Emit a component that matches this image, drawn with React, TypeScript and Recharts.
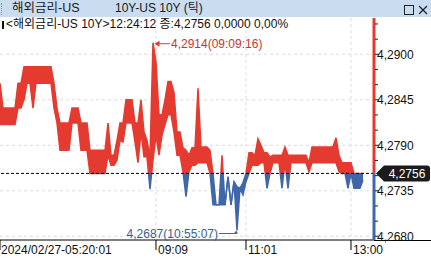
import React from 'react';
import { ComposedChart, Area, XAxis, YAxis, CartesianGrid, ReferenceLine, ReferenceDot } from 'recharts';

// ---- data (one sample per tick-slot, each a [low, high] range of the ticks inside it) ----
const highValues = [
  4.2865, 4.2835, 4.2835, 4.2835, 4.2835, 4.2835, 4.2865, 4.2865, 4.2885, 4.2885,
  4.2885, 4.2885, 4.2885, 4.2885, 4.2885, 4.2885, 4.2885, 4.2885, 4.2865, 4.2835,
  4.2817, 4.2817, 4.2817, 4.2817, 4.2835, 4.2835, 4.2835, 4.2817, 4.2817, 4.2817,
  4.2784, 4.2784, 4.2784, 4.2784, 4.2784, 4.2784, 4.2817, 4.2778, 4.2778, 4.2796,
  4.2817, 4.2817, 4.2845, 4.2845, 4.2845, 4.2817, 4.2817, 4.2845, 4.2806, 4.2796,
  4.2776, 4.2914, 4.2891, 4.2827, 4.2827, 4.2845, 4.2867, 4.2867, 4.2854, 4.2806,
  4.2806, 4.2787, 4.2784, 4.2778, 4.2787, 4.2787, 4.2859, 4.2788, 4.2788, 4.2788,
  4.2784, 4.2756, 4.2718, 4.2718, 4.2778, 4.2718, 4.2752, 4.2718, 4.2746, 4.2740,
  4.2738, 4.2745, 4.2756, 4.2781, 4.2781, 4.2778, 4.2798, 4.2790, 4.2781, 4.2781,
  4.2776, 4.2778, 4.2778, 4.2778, 4.2778, 4.2788, 4.2778, 4.2778, 4.2778, 4.2778,
  4.2778, 4.2778, 4.2778, 4.2769, 4.2788, 4.2788, 4.2788, 4.2788, 4.2788, 4.2788,
  4.2788, 4.2788, 4.2799, 4.2778, 4.2769, 4.2769, 4.2769, 4.2769, 4.2756, 4.2756,
  4.2756, 4.2756,
];
const lowValues = [
  4.2815, 4.2815, 4.2815, 4.2815, 4.2815, 4.2815, 4.2835, 4.2835, 4.2845, 4.2865,
  4.2865, 4.2835, 4.2865, 4.2865, 4.2865, 4.2865, 4.2865, 4.2865, 4.2835, 4.2817,
  4.2784, 4.2784, 4.2784, 4.2784, 4.2817, 4.2817, 4.2817, 4.2784, 4.2784, 4.2784,
  4.2756, 4.2756, 4.2756, 4.2756, 4.2756, 4.2756, 4.2778, 4.2766, 4.2766, 4.2772,
  4.2796, 4.2794, 4.2817, 4.2817, 4.2817, 4.2794, 4.2769, 4.2806, 4.2776, 4.2776,
  4.2737, 4.2772, 4.2802, 4.2778, 4.2802, 4.2815, 4.2827, 4.2827, 4.2806, 4.2778,
  4.2778, 4.2758, 4.2728, 4.2758, 4.2766, 4.2766, 4.2769, 4.2769, 4.2769, 4.2769,
  4.2756, 4.2718, 4.2718, 4.2718, 4.2718, 4.2718, 4.2752, 4.2718, 4.2746, 4.2687,
  4.2738, 4.2730, 4.2746, 4.2756, 4.2766, 4.2766, 4.2766, 4.2769, 4.2769, 4.2738,
  4.2756, 4.2769, 4.2769, 4.2769, 4.2738, 4.2769, 4.2738, 4.2769, 4.2769, 4.2769,
  4.2769, 4.2769, 4.2769, 4.2758, 4.2769, 4.2769, 4.2769, 4.2769, 4.2769, 4.2769,
  4.2769, 4.2769, 4.2769, 4.2758, 4.2756, 4.2756, 4.2738, 4.2756, 4.2738, 4.2738,
  4.2738, 4.2748,
];
const slotCount = 124.67;
const xTickSlots = [0, 52, 82, 117];
const xTickLabels = ['2024/02/27-05:20:01', '09:09', '11:01', '13:00'];
const yMajorTicks = [4.268, 4.2735, 4.279, 4.2845, 4.29];
const yMinorTicks = [4.26983, 4.27167, 4.27533, 4.27717, 4.28083, 4.28267, 4.28633, 4.28817, 4.29183, 4.29367];
const yDomain: [number, number] = [4.26755, 4.29439];
const closeValue = 4.2756;
const maxPoint = { slot: 51, value: 4.2914, label: '4,2914(09:09:16)' };
const minPoint = { slot: 79, value: 4.2687, label: '4,2687(10:55:07)' };
const windowTitle = '해외금리-US';
const windowSubtitle = '10Y-US 10Y (틱)';
const infoLine = '<해외금리-US 10Y>12:24:12 종:4,2756 0,0000 0,00%';

const rows = highValues.map((h, i) => ({ slot: i, range: [lowValues[i], h] }));

// ---- layout / style ----
const W = 431;
const H = 260;
const TOP = 18;
const AXIS_W = 57;
const XAXIS_H = 20;
const PLOT_BOTTOM = H - XAXIS_H;
const RED = '#e53a2f';
const BLUE = '#3f66a9';
const FONT = '"Liberation Sans", "Noto Sans CJK KR", sans-serif';
const splitOffset = (yDomain[1] - closeValue) / (yDomain[1] - yDomain[0]);

const fmt = (v: number) => v.toFixed(4).replace('.', ',');

const YTick = (props: any) => {
  const { x, y, payload } = props;
  const major = yMajorTicks.some((t) => Math.abs(t - payload.value) < 1e-6);
  return (
    <g>
      <line x1={x + 1} x2={x + (major ? 5 : 4)} y1={y} y2={y} stroke="#222" />
      {major && (
        <text x={x + 3} y={y} dy={4.5} fontSize={12} fontFamily={FONT} fill="#111">
          {fmt(payload.value)}
        </text>
      )}
    </g>
  );
};

const XTick = (props: any) => {
  const { x, y, payload, index } = props;
  const label = xTickLabels[xTickSlots.indexOf(payload.value)] ?? '';
  return (
    <text x={x + (index === 0 ? 1 : 2)} y={y + 3.5} fontSize={12} fontFamily={FONT} fill="#111">
      {label}
    </text>
  );
};

const CloseTag = (props: any) => {
  const { viewBox } = props;
  const left = viewBox.x + viewBox.width + 2;
  const cy = viewBox.y;
  const right = W - 1;
  return (
    <g>
      <path
        d={`M${left} ${cy} L${left + 8} ${cy - 8} L${right - 3} ${cy - 8} Q${right} ${cy - 8} ${right} ${cy - 5} L${right} ${cy + 5} Q${right} ${cy + 8} ${right - 3} ${cy + 8} L${left + 8} ${cy + 8} Z`}
        fill="#1b1b1b"
      />
      <text x={left + 31} y={cy + 4.5} textAnchor="middle" fontSize={12} fontFamily={FONT} fill="#fff">
        {fmt(closeValue)}
      </text>
    </g>
  );
};

const MaxMark = (props: any) => {
  const { cx, cy } = props;
  const yy = cy + 1;
  return (
    <g>
      <line x1={cx + 3} x2={cx + 17} y1={yy} y2={yy} stroke={RED} />
      <path d={`M${cx + 1.5} ${yy} l5 -3 v6 z`} fill={RED} />
      <text x={cx + 18} y={yy + 4.5} fontSize={12} fontFamily={FONT} fill="#c8362c">
        {maxPoint.label}
      </text>
    </g>
  );
};

const MinMark = (props: any) => {
  const { cx, cy } = props;
  const yy = cy + 3;
  return (
    <g>
      <line x1={cx - 18} x2={cx} y1={yy} y2={yy} stroke={BLUE} />
      <path d={`M${cx - 3} ${yy} l2 -3 l2 3 z`} fill={BLUE} />
      <text x={cx - 19} y={yy + 4.5} textAnchor="end" fontSize={12} fontFamily={FONT} fill="#3b5c9c">
        {minPoint.label}
      </text>
    </g>
  );
};

export default function App() {
  return (
    <div style={{ position: 'absolute', left: 0, top: 0, width: W, height: H, background: '#fff', overflow: 'hidden', fontFamily: FONT }}>
      {/* window title bar */}
      <div style={{ position: 'absolute', left: 0, top: 0, width: W, height: 17, background: '#c9dcf0' }} />
      <div style={{ position: 'absolute', left: 1, top: 3, width: 2, height: 12, borderLeft: '1px dotted #7f8fa6' }} />
      <div style={{ position: 'absolute', left: 12, top: 1, fontSize: 12.5, lineHeight: '15px', color: '#1a1a1a', whiteSpace: 'pre' }}>{windowTitle}</div>
      <div style={{ position: 'absolute', left: 115, top: 1, fontSize: 12, lineHeight: '15px', color: '#1a1a1a', whiteSpace: 'pre' }}>{windowSubtitle}</div>
      <div style={{ position: 'absolute', left: 404, top: 5, width: 8, height: 8, border: '1px solid #222' }} />
      <svg style={{ position: 'absolute', left: 418, top: 5 }} width={10} height={10}>
        <line x1={1} y1={1} x2={9} y2={9} stroke="#222" strokeWidth={1.3} />
        <line x1={9} y1={1} x2={1} y2={9} stroke="#222" strokeWidth={1.3} />
      </svg>
      <div style={{ position: 'absolute', left: W - 57, top: PLOT_BOTTOM, width: 57, height: 1, background: '#000' }} />

      <div style={{ position: 'absolute', left: 0, top: 0 }}>
        <ComposedChart width={W} height={H} data={rows} margin={{ top: TOP, right: 0, left: 0, bottom: 0 }}>
          <defs>
            <linearGradient id="rb" gradientUnits="userSpaceOnUse" x1={0} y1={TOP} x2={0} y2={PLOT_BOTTOM}>
              <stop offset={0} stopColor={RED} />
              <stop offset={splitOffset} stopColor={RED} />
              <stop offset={splitOffset} stopColor={BLUE} />
              <stop offset={1} stopColor={BLUE} />
            </linearGradient>
          </defs>
          <CartesianGrid stroke="#dcdcdc" strokeDasharray="3 3" horizontalValues={yMajorTicks} verticalValues={xTickSlots.slice(1)} />
          <XAxis
            type="number"
            dataKey="slot"
            domain={[0, slotCount]}
            ticks={xTickSlots}
            interval={0}
            height={XAXIS_H}
            tickSize={10}
            tickMargin={0}
            axisLine={{ stroke: '#000' }}
            tickLine={{ stroke: '#000' }}
            tick={<XTick />}
            allowDataOverflow
          />
          <YAxis
            orientation="right"
            width={AXIS_W}
            domain={yDomain}
            allowDataOverflow
            ticks={[...yMajorTicks, ...yMinorTicks].sort((a, b) => a - b)}
            interval={0}
            tickSize={0}
            tickMargin={0}
            tickLine={false}
            axisLine={{ stroke: 'url(#rb)', strokeWidth: 3 }}
            tick={<YTick />}
          />
          <Area
            type="linear"
            dataKey="range"
            stroke="url(#rb)"
            strokeWidth={1.5}
            fill="url(#rb)"
            fillOpacity={1}
            dot={false}
            activeDot={false}
            isAnimationActive={false}
          />
          <ReferenceLine y={closeValue} stroke="#000" strokeDasharray="3 2" label={<CloseTag />} />
          <ReferenceDot x={maxPoint.slot} y={maxPoint.value} r={0} shape={<MaxMark />} />
          <ReferenceDot x={minPoint.slot} y={minPoint.value} r={0} shape={<MinMark />} />
        </ComposedChart>
      </div>

      {/* info line */}
      <div style={{ position: 'absolute', left: 2, top: 21, width: 2, height: 8, background: '#111' }} />
      <div style={{ position: 'absolute', left: 6, top: 17, fontSize: 12, lineHeight: '15px', color: '#111', whiteSpace: 'pre' }}>{infoLine}</div>
    </div>
  );
}
